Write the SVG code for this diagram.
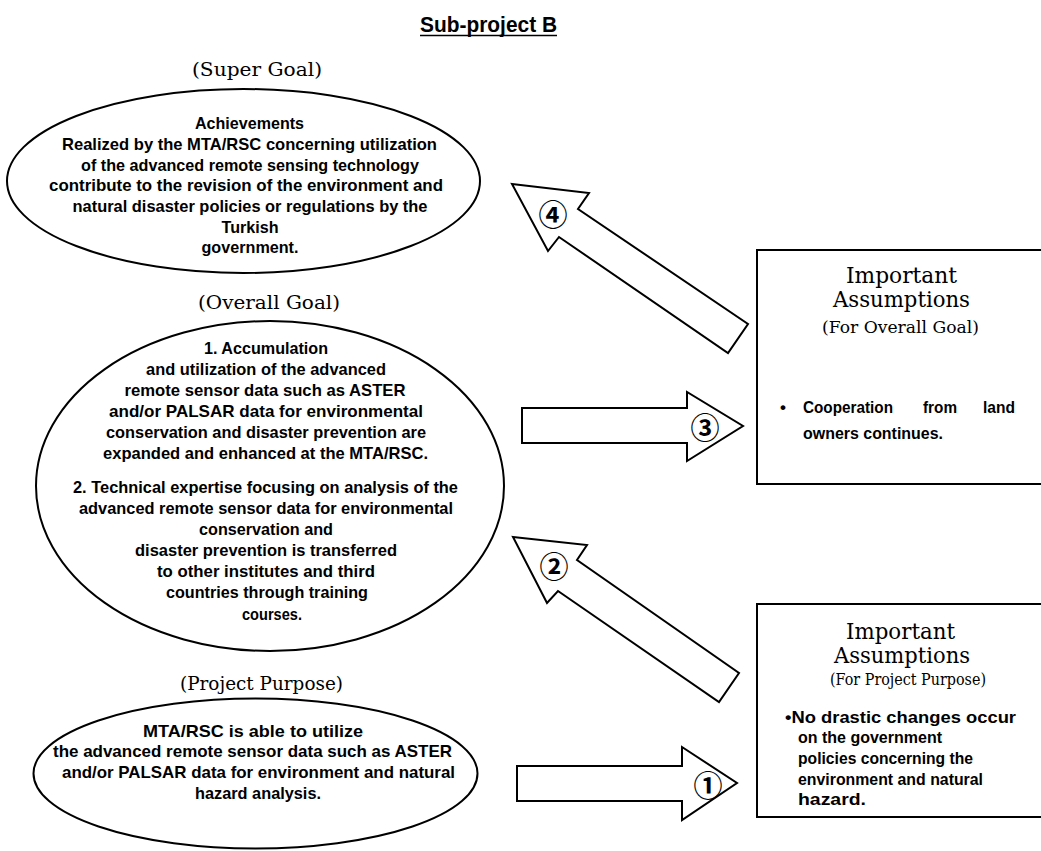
<svg xmlns="http://www.w3.org/2000/svg" width="1041" height="851" viewBox="0 0 1041 851">
  <style>
    .shape { fill: #fff; stroke: #000; stroke-width: 2; stroke-linejoin: miter; }
    .body { font-family: "Liberation Sans", Arial, sans-serif; font-weight: bold; font-size: 17px; fill: #000; }
    .box { font-family: "Liberation Sans", Arial, sans-serif; font-weight: bold; font-size: 17px; fill: #000; }
    .lbl { font-family: "DejaVu Serif", "Liberation Serif", serif; font-size: 19px; fill: #000; }
    .head { font-family: "DejaVu Serif", "Liberation Serif", serif; font-size: 21.5px; fill: #000; }
    .sub { font-family: "DejaVu Serif", "Liberation Serif", serif; font-size: 17px; fill: #000; }
    .num { font-family: "Noto Sans CJK JP", "DejaVu Sans", sans-serif; font-size: 29px; font-weight: bold; fill: #000; }
    .title { font-family: "Liberation Sans", Arial, sans-serif; font-weight: bold; font-size: 22px; fill: #000; }
  </style>
  <rect width="1041" height="851" fill="#fff"/>

  <!-- heading -->
  <g id="title">
    <text class="title" x="420" y="32" textLength="137" lengthAdjust="spacingAndGlyphs">Sub-project B</text>
    <line x1="420" y1="35.5" x2="557" y2="35.5" stroke="#000" stroke-width="1.6"/>
  </g>

  <!-- super goal -->
  <g id="super-goal">
    <text class="lbl" x="257" y="76" text-anchor="middle" textLength="130" lengthAdjust="spacingAndGlyphs">(Super Goal)</text>
    <ellipse class="shape" cx="243.5" cy="181" rx="236.5" ry="92"/>
    <g class="body" text-anchor="middle">
      <text x="249.5" y="129" textLength="109" lengthAdjust="spacingAndGlyphs">Achievements</text>
      <text x="249.5" y="150" textLength="375" lengthAdjust="spacingAndGlyphs">Realized by the MTA/RSC concerning utilization</text>
      <text x="250" y="171" textLength="338" lengthAdjust="spacingAndGlyphs">of the advanced remote sensing technology</text>
      <text x="246" y="191" textLength="394" lengthAdjust="spacingAndGlyphs">contribute to the revision of the environment and</text>
      <text x="250" y="212" textLength="355" lengthAdjust="spacingAndGlyphs">natural disaster policies or regulations by the</text>
      <text x="250" y="233" textLength="57" lengthAdjust="spacingAndGlyphs">Turkish</text>
      <text x="250" y="253" textLength="97" lengthAdjust="spacingAndGlyphs">government.</text>
    </g>
  </g>

  <!-- overall goal -->
  <g id="overall-goal">
    <text class="lbl" x="269" y="309" text-anchor="middle" textLength="142" lengthAdjust="spacingAndGlyphs">(Overall Goal)</text>
    <ellipse class="shape" cx="270" cy="486" rx="234" ry="165"/>
    <g class="body" text-anchor="middle">
      <text x="266" y="354" textLength="124" lengthAdjust="spacingAndGlyphs">1. Accumulation</text>
      <text x="266" y="375" textLength="240" lengthAdjust="spacingAndGlyphs">and utilization of the advanced</text>
      <text x="265" y="396" textLength="281" lengthAdjust="spacingAndGlyphs">remote sensor data such as ASTER</text>
      <text x="266" y="417" textLength="314" lengthAdjust="spacingAndGlyphs">and/or PALSAR data for environmental</text>
      <text x="266" y="438" textLength="320" lengthAdjust="spacingAndGlyphs">conservation and disaster prevention are</text>
      <text x="265.5" y="459" textLength="325" lengthAdjust="spacingAndGlyphs">expanded and enhanced at the MTA/RSC.</text>
      <text x="265.5" y="493" textLength="385" lengthAdjust="spacingAndGlyphs">2. Technical expertise focusing on analysis of the</text>
      <text x="266" y="514" textLength="374" lengthAdjust="spacingAndGlyphs">advanced remote sensor data for environmental</text>
      <text x="266" y="535" textLength="134" lengthAdjust="spacingAndGlyphs">conservation and</text>
      <text x="266" y="556" textLength="262" lengthAdjust="spacingAndGlyphs">disaster prevention is transferred</text>
      <text x="266" y="577" textLength="218" lengthAdjust="spacingAndGlyphs">to other institutes and third</text>
      <text x="267" y="598" textLength="202" lengthAdjust="spacingAndGlyphs">countries through training</text>
      <text x="272" y="620" textLength="60" lengthAdjust="spacingAndGlyphs">courses.</text>
    </g>
  </g>

  <!-- project purpose -->
  <g id="project-purpose">
    <text class="lbl" x="261.5" y="690" text-anchor="middle" textLength="163" lengthAdjust="spacingAndGlyphs">(Project Purpose)</text>
    <ellipse class="shape" cx="255.5" cy="773.5" rx="222" ry="75"/>
    <g class="body" text-anchor="middle">
      <text x="253" y="737" textLength="220" lengthAdjust="spacingAndGlyphs">MTA/RSC is able to utilize</text>
      <text x="252.5" y="757" textLength="399" lengthAdjust="spacingAndGlyphs">the advanced remote sensor data such as ASTER</text>
      <text x="258.5" y="778" textLength="393" lengthAdjust="spacingAndGlyphs">and/or PALSAR data for environment and natural</text>
      <text x="258" y="799" textLength="126" lengthAdjust="spacingAndGlyphs">hazard analysis.</text>
    </g>
  </g>

  <!-- assumptions for the overall goal -->
  <g id="assumptions-overall">
    <rect class="shape" x="757" y="250" width="290" height="234"/>
    <text class="head" x="901.5" y="283" text-anchor="middle" textLength="111" lengthAdjust="spacingAndGlyphs">Important</text>
    <text class="head" x="901.5" y="307" text-anchor="middle" textLength="137" lengthAdjust="spacingAndGlyphs">Assumptions</text>
    <text class="sub" x="900.5" y="333" text-anchor="middle" textLength="157" lengthAdjust="spacingAndGlyphs">(For Overall Goal)</text>
    <g class="box">
      <text x="780" y="413">•</text>
      <text x="803" y="413" textLength="90" lengthAdjust="spacingAndGlyphs">Cooperation</text>
      <text x="923" y="413" textLength="34" lengthAdjust="spacingAndGlyphs">from</text>
      <text x="983" y="413" textLength="32" lengthAdjust="spacingAndGlyphs">land</text>
      <text x="803" y="439" textLength="140" lengthAdjust="spacingAndGlyphs">owners continues.</text>
    </g>
  </g>

  <!-- assumptions for the project purpose -->
  <g id="assumptions-purpose">
    <rect class="shape" x="757" y="604" width="290" height="213"/>
    <text class="head" x="900.5" y="639" text-anchor="middle" textLength="109" lengthAdjust="spacingAndGlyphs">Important</text>
    <text class="head" x="902" y="663" text-anchor="middle" textLength="136" lengthAdjust="spacingAndGlyphs">Assumptions</text>
    <text class="sub" x="908" y="685" text-anchor="middle" textLength="156" lengthAdjust="spacingAndGlyphs">(For Project Purpose)</text>
    <g class="box">
      <text x="785" y="723" textLength="231" lengthAdjust="spacingAndGlyphs">•No drastic changes occur</text>
      <text x="798" y="743" textLength="144" lengthAdjust="spacingAndGlyphs">on the government</text>
      <text x="798" y="764" textLength="175" lengthAdjust="spacingAndGlyphs">policies concerning the</text>
      <text x="798" y="785" textLength="185" lengthAdjust="spacingAndGlyphs">environment and natural</text>
      <text x="798" y="805" textLength="68" lengthAdjust="spacingAndGlyphs">hazard.</text>
    </g>
  </g>

  <!-- block arrows linking the levels -->
  <g id="connectors">
    <g id="arrow-4">
      <polygon class="shape" points="512,184 589,193 578,209 748,324 728,353 559,237 548,251"/>
      <text class="num" x="553" y="213" text-anchor="middle" dominant-baseline="central">④</text>
    </g>
    <g id="arrow-3">
      <polygon class="shape" points="522,408 687,408 687,392 743,426 687,461 687,443 522,443"/>
      <text class="num" x="705" y="426" text-anchor="middle" dominant-baseline="central">③</text>
    </g>
    <g id="arrow-2">
      <polygon class="shape" points="513,537 587,545 577,560 739,673 719,702 558,591 547,603"/>
      <text class="num" x="554" y="565" text-anchor="middle" dominant-baseline="central">②</text>
    </g>
    <g id="arrow-1">
      <polygon class="shape" points="517,766 682,766 682,747 737,783 682,820 682,801 517,801"/>
      <text class="num" x="708" y="784" text-anchor="middle" dominant-baseline="central">①</text>
    </g>
  </g>
</svg>
